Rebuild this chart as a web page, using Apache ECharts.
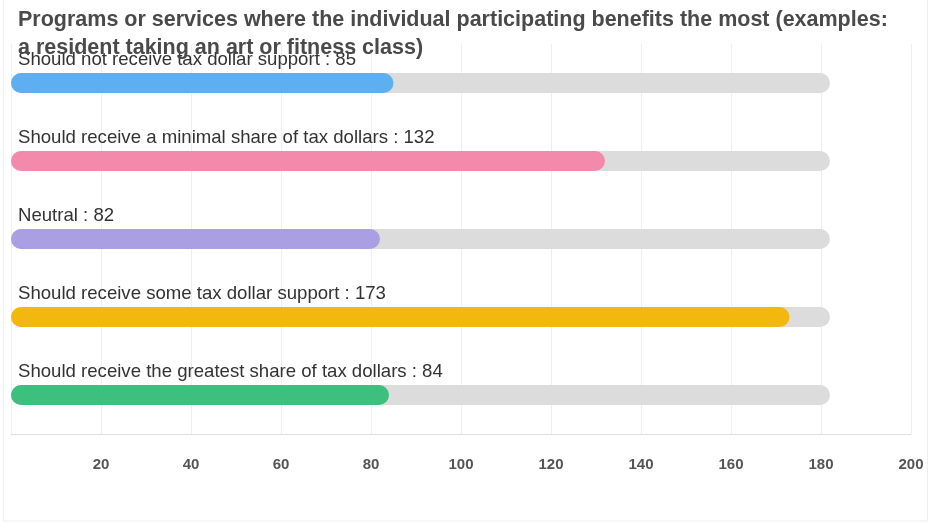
<!DOCTYPE html>
<html><head><meta charset="utf-8">
<script src="https://cdn.jsdelivr.net/npm/echarts@6/dist/echarts.min.js"></script>
<style>html,body{margin:0;padding:0;background:#fff}#c{width:930px;height:525px}</style>
</head><body><div id="c"></div>
<script>
const titleText = "Programs or services where the individual participating benefits the most (examples:\na resident taking an art or fitness class)";
const categories = [
  "Should not receive tax dollar support",
  "Should receive a minimal share of tax dollars",
  "Neutral",
  "Should receive some tax dollar support",
  "Should receive the greatest share of tax dollars"
];
const values = [85, 132, 82, 173, 84];
const trackValues = [182, 182, 182, 182, 182];
const colors = ["#5eaff2", "#f48aab", "#aa9fe2", "#f3b80f", "#3dbf7e"];

const chart = echarts.init(document.getElementById('c'));
chart.setOption({
  animation: false,
  title: {
    text: titleText, left: 13, top: 1,
    textStyle: { fontFamily: "Liberation Sans", fontSize: 21.5, fontWeight: "bold", color: "#4a4a4a", lineHeight: 28 }
  },
  graphic: [{
    type: "rect", shape: { x: 3.5, y: -5, width: 924, height: 526 }, silent: true, z: -10,
    style: { fill: "none", stroke: "#eeeeee", lineWidth: 1 }
  }],
  grid: { left: 11, right: 19, top: 44, bottom: 91 },
  xAxis: {
    type: "value", min: 0, max: 200, interval: 20,
    axisLine: { show: true, lineStyle: { color: "#dedede" } },
    axisTick: { show: false },
    splitLine: { show: true, lineStyle: { color: "#efefef" } },
    axisLabel: { showMinLabel: false, margin: 23, fontFamily: "Liberation Sans", fontSize: 15, fontWeight: "bold", color: "#555" }
  },
  yAxis: {
    type: "category", data: categories, inverse: true,
    axisLine: { show: false }, axisTick: { show: false }, axisLabel: { show: false }
  },
  series: [
    {
      type: "bar", data: trackValues, barWidth: 20, barGap: "-100%", silent: true, z: 1,
      itemStyle: { color: "#dcdcdc", borderRadius: 10 }
    },
    {
      type: "bar", barWidth: 20, z: 2,
      data: values.map((v, i) => ({ value: v, itemStyle: { color: colors[i] } })),
      itemStyle: { borderRadius: 10 },
      label: {
        show: true, position: [7, -23], formatter: "{b} : {c}",
        fontFamily: "Liberation Sans", fontSize: 18.6, color: "#333"
      }
    }
  ]
});
</script></body></html>
